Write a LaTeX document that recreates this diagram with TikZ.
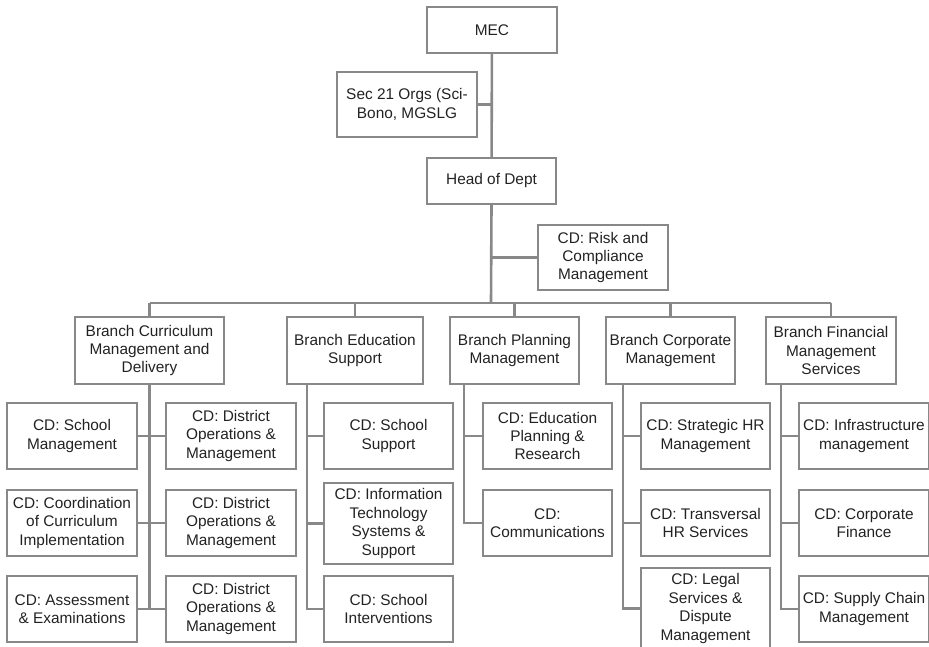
\documentclass[tikz,border=0pt]{standalone}
\usepackage{fontspec}
\setmainfont{Liberation Sans}
\definecolor{linegray}{HTML}{888888}
\definecolor{textgray}{HTML}{222222}
\tikzset{
  box/.style = {draw = linegray, line width = 2.2pt, align = center, inner sep = 0pt,
    text = textgray, font = \fontsize{15.4}{18.4}\selectfont, minimum width = #1},
  box/.default = 130pt,
  link/.style = {draw = linegray, line width = 2.6pt}
}
\begin{document}
\begin{tikzpicture}[x = 1pt, y = -1pt]
\useasboundingbox (0,0) rectangle (929,647);
\clip (0,0) rectangle (929,647);
% top of the chart
\node[box, minimum height = 46pt] (mec) at (492,30) {MEC};
\node[box = 140pt, minimum height = 65pt] (sec) at (407,104.5) {Sec 21 Orgs (Sci-\\Bono, MGSLG};
\node[box = 129pt, minimum height = 46pt] (head) at (491.5,181) {Head of Dept};
\node[box, minimum height = 65pt] (risk) at (603,257.5) {CD: Risk and\\Compliance\\Management};
\coordinate (bus) at (491,303);
\draw[link] (mec) -- (head);
\draw[link] (sec.east) -- (sec.east -| mec.south);
\draw[link] (head.south) -- (bus);
\draw[link] (risk.west) -- (risk.west -| head.south);
% branches
\node[box = 149pt, minimum height = 67pt] (brCur) at (149.5,350.5) {Branch Curriculum\\Management and\\Delivery};
\node[box = 136pt, minimum height = 67pt] (brEdu) at (355,350.5) {Branch Education\\Support};
\node[box = 129pt, minimum height = 67pt] (brPla) at (514.5,350.5) {Branch Planning\\Management};
\node[box = 129pt, minimum height = 67pt] (brCor) at (670.5,350.5) {Branch Corporate\\Management};
\node[box, minimum height = 67pt] (brFin) at (831,350.5) {Branch Financial\\Management\\Services};
\draw[link] (brCur.north |- bus) -- (brFin.north |- bus);
\foreach \b in {brCur, brEdu, brPla, brCor, brFin}
  \draw[link] (\b.north) -- (\b.north |- bus);
% curriculum
\node[box, minimum height = 66pt] (cdSch) at (72,436) {CD: School\\Management};
\node[box, minimum height = 66pt] (cdCoo) at (72,523) {CD: Coordination\\of Curriculum\\Implementation};
\node[box, minimum height = 66pt] (cdAss) at (72,609) {CD: Assessment\\\& Examinations};
\node[box, minimum height = 66pt] (cdDisA) at (231,436) {CD: District\\Operations \&\\Management};
\node[box, minimum height = 66pt] (cdDisB) at (231,523) {CD: District\\Operations \&\\Management};
\node[box, minimum height = 66pt] (cdDisC) at (231,609) {CD: District\\Operations \&\\Management};
\draw[link] (brCur.south) -- (brCur.south |- cdAss.east);
\draw[link] (cdSch) -- (cdDisA);
\draw[link] (cdCoo) -- (cdDisB);
\draw[link] (cdAss) -- (cdDisC);
% education support
\node[box = 129pt, minimum height = 66pt] (cdSup) at (388.5,436) {CD: School\\Support};
\node[box = 129pt, minimum height = 81pt] (cdInf) at (388.5,523.5) {CD: Information\\Technology\\Systems \&\\Support};
\node[box = 129pt, minimum height = 66pt] (cdInt) at (388.5,609) {CD: School\\Interventions};
\coordinate (spEdu) at (307,384);
\foreach \c in {cdSup, cdInf, cdInt}
  \draw[link] (spEdu) |- (\c.west);
% planning
\node[box = 129pt, minimum height = 66pt] (cdPla) at (547.5,436) {CD: Education\\Planning \&\\Research};
\node[box = 129pt, minimum height = 66pt] (cdCom) at (547.5,523) {CD:\\Communications};
\coordinate (spPla) at (464,384);
\foreach \c in {cdPla, cdCom}
  \draw[link] (spPla) |- (\c.west);
% corporate
\node[box = 129pt, minimum height = 66pt] (cdStr) at (705.5,436) {CD: Strategic HR\\Management};
\node[box = 129pt, minimum height = 66pt] (cdTra) at (705.5,523) {CD: Transversal\\HR Services};
\node[box = 129pt, minimum height = 81pt] (cdLeg) at (705.5,608.5) {CD: Legal\\Services \&\\Dispute\\Management};
\coordinate (spCor) at (623,384);
\foreach \c in {cdStr, cdTra, cdLeg}
  \draw[link] (spCor) |- (\c.west);
% financial
\node[box, minimum height = 66pt] (cdIfr) at (864,436) {CD: Infrastructure\\management};
\node[box, minimum height = 66pt] (cdFin) at (864,523) {CD: Corporate\\Finance};
\node[box, minimum height = 66pt] (cdSupC) at (864,609) {CD: Supply Chain\\Management};
\coordinate (spFin) at (781,384);
\foreach \c in {cdIfr, cdFin, cdSupC}
  \draw[link] (spFin) |- (\c.west);
\end{tikzpicture}
\end{document}
